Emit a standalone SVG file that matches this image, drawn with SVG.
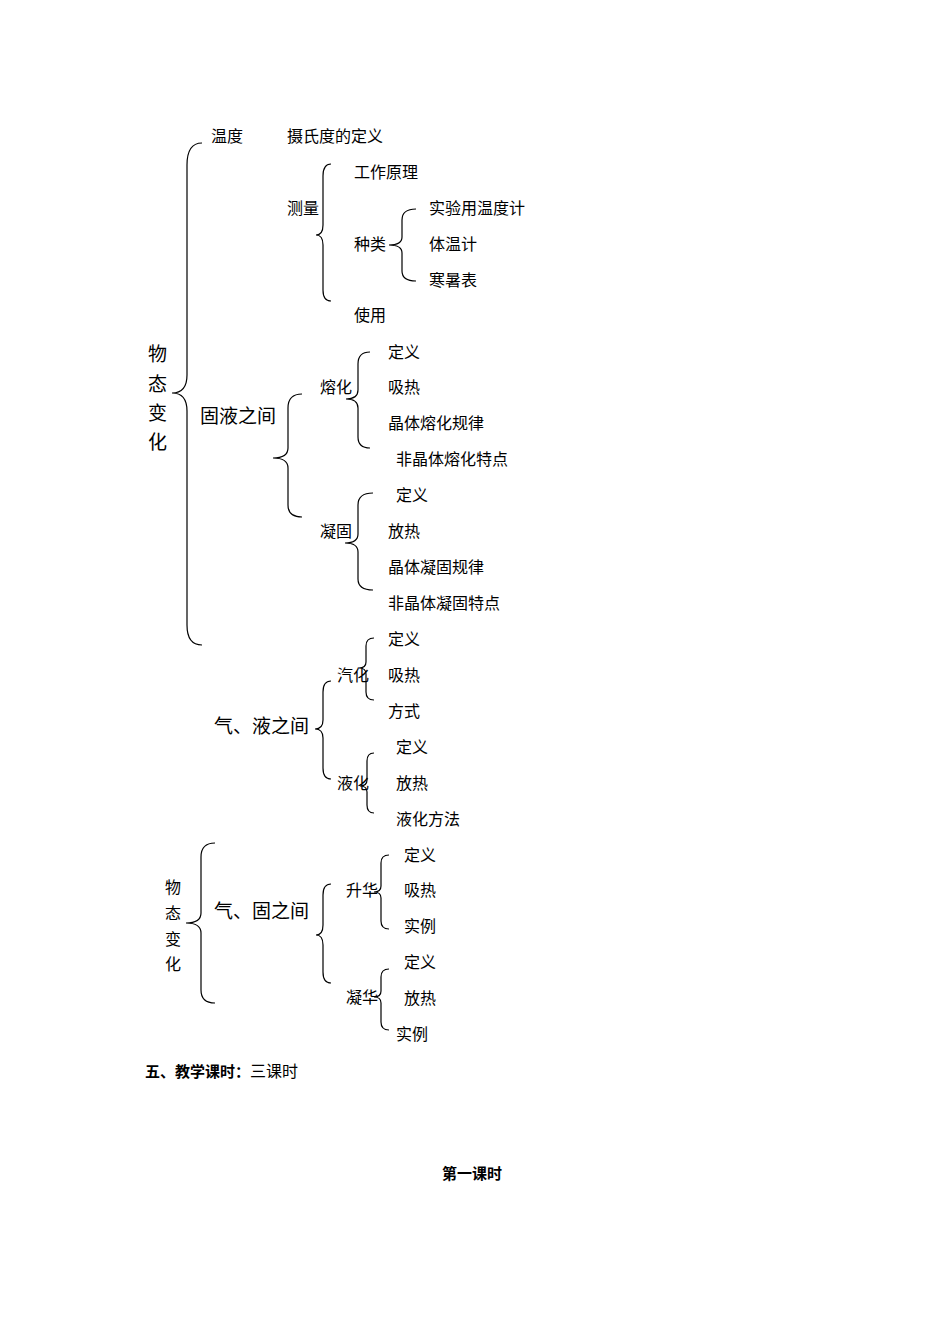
<svg xmlns="http://www.w3.org/2000/svg" width="950" height="1344" viewBox="0 0 950 1344">
<style>
text{font-family:"Liberation Serif","Noto Sans CJK SC",serif;font-size:16px;fill:#000}
.l{font-size:19px}
.b{font-weight:bold;font-size:15px}
.br path{fill:none;stroke:#000;stroke-width:1.2}
</style>
<rect width="950" height="1344" fill="#fff"/>
<g class="br" id="connectors">
<path d="M202,143 Q187,143 187,165 L187,375 Q187,393 172,393 Q187,393 187,411 L187,625 Q187,645 202,645"/>
<path d="M331,164 Q323,164 323,176 L323,225 Q323,235 316,235 Q323,235 323,245 L323,290 Q323,301 331,301"/>
<path d="M416,209 Q402,209 402,220 L402,237 Q402,245 389,245 Q402,245 402,253 L402,271 Q402,281 416,281"/>
<path d="M302,394 Q288,394 288,408 L288,448 Q288,458 273,458 Q288,458 288,468 L288,505 Q288,517 302,517"/>
<path d="M370,352 Q358,352 358,364 L358,390 Q358,399 346,399 Q358,399 358,408 L358,437 Q358,448 370,448"/>
<path d="M373,493 Q358,493 358,505 L358,534 Q358,543 345,543 Q358,543 358,552 L358,579 Q358,590 373,590"/>
<path d="M374,638 Q366,638 366,646 L366,662 Q366,668 359,668 Q366,668 366,674 L366,692 Q366,700 374,700"/>
<path d="M331,681 Q323,681 323,692 L323,720 Q323,729 315,729 Q323,729 323,738 L323,768 Q323,779 331,779"/>
<path d="M374,753 Q367,753 367,761 L367,780 Q367,786 360,786 Q367,786 367,792 L367,805 Q367,813 374,813"/>
<path d="M215,843 Q201,843 201,857 L201,913 Q201,923 186,923 Q201,923 201,933 L201,990 Q201,1003 215,1003"/>
<path d="M331,884 Q323,884 323,895 L323,925 Q323,935 316,935 Q323,935 323,945 L323,972 Q323,983 331,983"/>
<path d="M389,855 Q381,855 381,863 L381,886 Q381,892 374,892 Q381,892 381,898 L381,921 Q381,929 389,929"/>
<path d="M389,969 Q381,969 381,977 L381,991 Q381,997 374,997 Q381,997 381,1003 L381,1022 Q381,1030 389,1030"/>
</g>
<g id="n-wtbh1" class="l"><text class="l" x="148" y="361">物</text><text class="l" x="148" y="391">态</text><text class="l" x="148" y="420">变</text><text class="l" x="148" y="449">化</text></g>
<g id="n-wendu"><text x="211" y="142">温度</text><text x="287" y="142">摄氏度的定义</text></g>
<g id="n-celiang"><text x="287" y="214">测量</text><text x="354" y="178">工作原理</text><text x="354" y="250">种类</text><text x="354" y="321">使用</text></g>
<g id="n-zhonglei"><text x="429" y="214">实验用温度计</text><text x="429" y="250">体温计</text><text x="429" y="286">寒暑表</text></g>
<g id="n-guye"><text class="l" x="200" y="423">固液之间</text><text x="320" y="393">熔化</text><text x="320" y="537">凝固</text></g>
<g id="n-ronghua"><text x="388" y="358">定义</text><text x="388" y="393">吸热</text><text x="388" y="429">晶体熔化规律</text><text x="396" y="465">非晶体熔化特点</text></g>
<g id="n-ninggu"><text x="396" y="501">定义</text><text x="388" y="537">放热</text><text x="388" y="573">晶体凝固规律</text><text x="388" y="609">非晶体凝固特点</text></g>
<g id="n-qiye"><text class="l" x="214" y="733">气、液之间</text><text x="337" y="681">汽化</text><text x="337" y="789">液化</text></g>
<g id="n-qihua"><text x="388" y="645">定义</text><text x="388" y="681">吸热</text><text x="388" y="717">方式</text></g>
<g id="n-yehua"><text x="396" y="753">定义</text><text x="396" y="789">放热</text><text x="396" y="825">液化方法</text></g>
<g id="n-wtbh2"><text x="165" y="893">物</text><text x="165" y="919">态</text><text x="165" y="945">变</text><text x="165" y="970">化</text></g>
<g id="n-qigu"><text class="l" x="214" y="918">气、固之间</text><text x="346" y="896">升华</text><text x="346" y="1003">凝华</text></g>
<g id="n-shenghua"><text x="404" y="861">定义</text><text x="404" y="896">吸热</text><text x="404" y="932">实例</text></g>
<g id="n-ninghua"><text x="404" y="968">定义</text><text x="404" y="1004">放热</text><text x="396" y="1040">实例</text></g>
<g id="n-footer"><text x="145" y="1077"><tspan class="b">五、教学课时：</tspan>三课时</text><text class="b" x="442" y="1179">第一课时</text></g>
</svg>
